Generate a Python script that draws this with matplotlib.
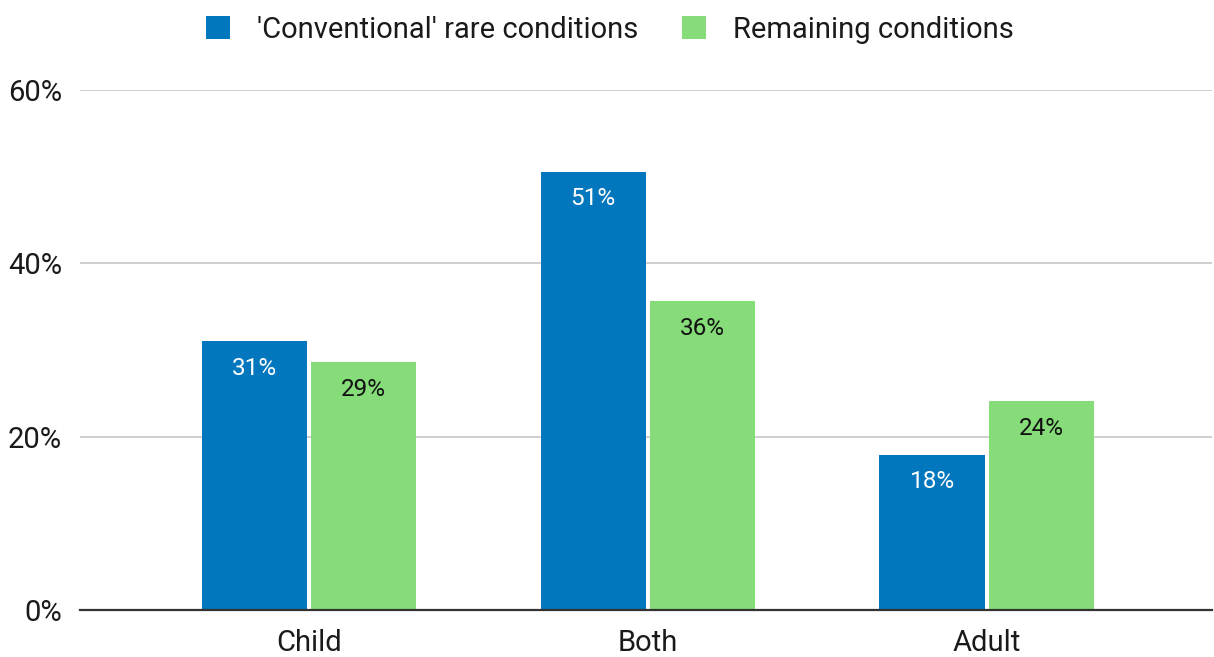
import matplotlib.pyplot as plt
import numpy as np

plt.rcParams['font.family'] = ['Roboto', 'DejaVu Sans']

categories = ['Child', 'Both', 'Adult']
conventional = [31.0, 50.55, 17.9]
remaining = [28.6, 35.6, 24.1]
series_names = ["'Conventional' rare conditions", 'Remaining conditions']
yticks = [0, 20, 40, 60]

blue = '#0277bd'
green = '#85dc78'

fig = plt.figure(figsize=(12.14, 6.57), dpi=100)
ax = fig.add_axes([0.066, 0.0715, 0.932, 0.7915])

x = np.arange(len(categories))
w = 0.31
off = 0.161
b1 = ax.bar(x - off, conventional, w, color=blue, label=series_names[0], zorder=3)
b2 = ax.bar(x + off, remaining, w, color=green, label=series_names[1], zorder=3)

# labels inside the bars, near the top
for bars, vals, col in [(b1, conventional, 'white'), (b2, remaining, '#111111')]:
    for r, v in zip(bars, vals):
        ax.annotate(f'{round(v)}%', (r.get_x() + r.get_width() / 2, r.get_height()),
                    xytext=(0, -19.5), textcoords='offset points',
                    ha='center', va='center', color=col, fontsize=17.5, zorder=4)

ax.set_ylim(0, 60)
ax.set_xlim(-0.675, 2.664)
ax.set_yticks(yticks)
ax.set_yticklabels([f'{t}%' for t in yticks])
ax.set_xticks(x)
ax.set_xticklabels(categories)
ax.tick_params(axis='y', length=0, pad=13, labelsize=21, labelcolor='#1a1a1a')
ax.tick_params(axis='x', length=0, pad=14, labelsize=21, labelcolor='#1a1a1a')
ax.grid(axis='y', color='#cccccc', linewidth=1.3, zorder=0)
for s in ['top', 'right', 'left']:
    ax.spines[s].set_visible(False)
ax.spines['bottom'].set_color('#333333')
ax.spines['bottom'].set_linewidth(1.6)
ax.spines['bottom'].set_zorder(5)

fig.legend(loc='upper center', bbox_to_anchor=(0.502, 1.016), ncol=2, frameon=False,
           fontsize=21, handlelength=0.85, handleheight=0.85, columnspacing=1.5,
           handletextpad=0.9, labelcolor='#1a1a1a')

fig.savefig('out.png', dpi=100)
